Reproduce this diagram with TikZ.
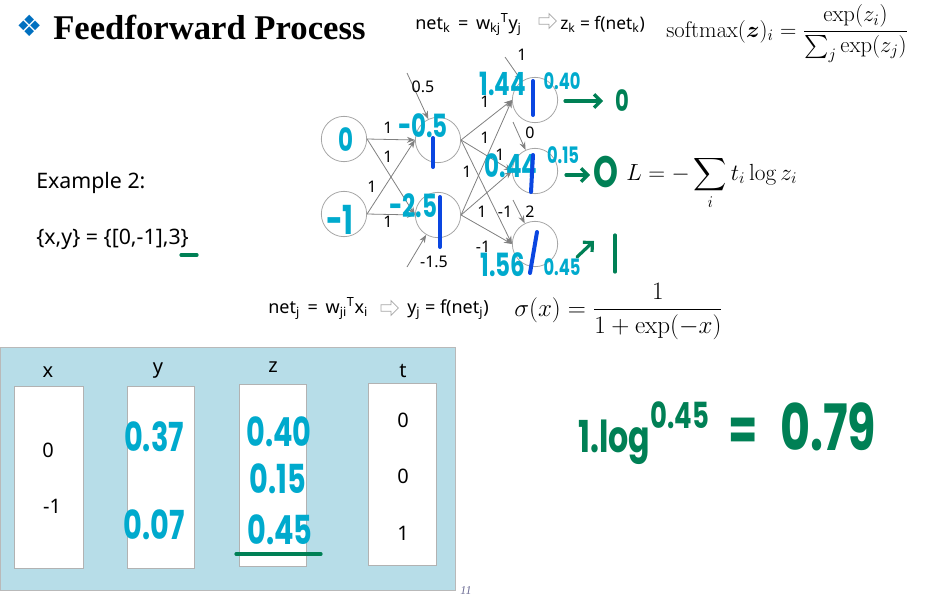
\RequirePackage{fix-cm}
\documentclass[tikz,border=0pt]{standalone}
\usepackage{amsmath,bm}
\usepackage{graphicx}
\usepackage[no-math]{fontspec}
\usetikzlibrary{arrows.meta,shapes.arrows}
\newfontfamily\sff{Noto Sans}
\newfontfamily\titlef{Liberation Serif}
\newfontfamily\hwf[FakeStretch=0.72]{Poppins}
\newfontfamily\symf{DejaVu Sans}
\definecolor{hwcyan}{RGB}{0,170,205}
\definecolor{hwblue}{RGB}{10,70,225}
\definecolor{hwgreen}{RGB}{0,128,85}
\definecolor{tblue}{RGB}{183,221,232}
\definecolor{dblue}{RGB}{0,112,192}
\definecolor{pgnum}{RGB}{110,110,150}
\tikzset{
  neuron/.style={circle, draw=gray!70, line width=0.6pt, minimum size=34pt, inner sep=0pt},
  edge/.style={draw=gray, line width=0.6pt, -{Stealth[length=6pt,width=4.5pt]}},
  wlab/.style={font=\sff\fontsize{12}{14}\selectfont, inner sep=0pt},
  frm/.style={font=\sff\fontsize{13.5}{15}\selectfont, inner sep=0pt, anchor=base west},
  hwL/.style={font=\hwf\bfseries\fontsize{24}{26}\selectfont, text=hwcyan, inner sep=0pt},
  hwS/.style={font=\hwf\bfseries\fontsize{17}{19}\selectfont, text=hwcyan, inner sep=0pt},
  hwT/.style={font=\hwf\bfseries\fontsize{30}{32}\selectfont, text=hwcyan, inner sep=0pt},
  hwG/.style={font=\hwf\bfseries, text=hwgreen, inner sep=0pt},
  bar/.style={draw=hwblue, line width=3pt, line cap=round},
  gr/.style={draw=hwgreen, line width=2.4pt, line cap=round, line join=round},
  grarrow/.style={gr, -{Straight Barb[length=5pt,width=10pt]}},
  tlab/.style={font=\sff\fontsize{15}{17}\selectfont, inner sep=0pt, anchor=base},
  wbox/.style={draw=gray!60, fill=white, line width=0.6pt},
  hollow/.style={single arrow, draw=gray!70, fill=white, line width=0.6pt, minimum height=13pt, minimum width=11pt, inner sep=2.2pt, single arrow head extend=3pt}
}
\begin{document}
\begin{tikzpicture}[x=0.75pt,y=-0.75pt]
\useasboundingbox (0,0) rectangle (937,603);

% title
\node[inner sep=0pt, text=dblue, font=\symf\fontsize{22}{24}\selectfont] (diam) at (30,26) {❖};
\node[inner sep=0pt, anchor=base west, font=\titlef\bfseries\fontsize{26}{28}\selectfont] (title) at (53,39) {Feedforward Process};

% top formula
\node[frm] (topf1) at (415,29) {net\textsubscript{k}\, = \,w\textsubscript{kj}\textsuperscript{T}y\textsubscript{j}};
\node[hollow] (toparr) at (546,21) {};
\node[frm, font=\sff\fontsize{13}{15}\selectfont] (topf2) at (560,29) {z\textsubscript{k} = f(net\textsubscript{k})};
\node[inner sep=0pt, anchor=base west, font=\fontsize{17}{19}\selectfont] (softmax) at (666,37)
  {$\displaystyle \mathrm{softmax}(\bm{z})_i = \frac{\exp(z_i)}{\sum_j \exp(z_j)}$};

% example text
\node[tlab, anchor=base west, font=\sff\fontsize{16}{18}\selectfont] (ex) at (36,188) {Example 2:};
\node[tlab, anchor=base west, font=\sff\fontsize{16}{18}\selectfont] (xy) at (36,244) {\{x,y\} = \{[0,-1],3\}};
\coordinate (ul1) at (181,255); \coordinate (ul2) at (197,255);
\draw[gr] (ul1) -- (ul2);

% network
\node[neuron] (i1) at (344,139) {};
\node[neuron] (i2) at (344,214) {};
\node[neuron] (h1) at (438,140) {};
\node[neuron] (h2) at (438,215) {};
\node[neuron] (o1) at (535,100) {};
\node[neuron] (o2) at (535,171) {};
\node[neuron] (o3) at (535,244) {};

\draw[edge] (i1.east) -- (h1.west);
\draw[edge] (i1.east) -- (h2.west);
\draw[edge] (i2.east) -- (h1.west);
\draw[edge] (i2.east) -- (h2.west);
\draw[edge] (h1.east) -- (o1.west);
\draw[edge] (h1.east) -- (o2.west);
\draw[edge] (h1.east) -- (o3.west);
\draw[edge] (h2.east) -- (o1.west);
\draw[edge] (h2.east) -- (o2.west);
\draw[edge] (h2.east) -- (o3.west);

\coordinate (b1) at (407,73);
\coordinate (b2) at (407,267);
\coordinate (b3) at (505,57);
\coordinate (b4) at (513,122);
\coordinate (b5) at (513,200);
\draw[edge] (b1) -- (h1);
\draw[edge] (b2) -- (h2);
\draw[edge] (b3) -- (o1);
\draw[edge] (b4) -- (o2);
\draw[edge] (b5) -- (o3);

\node[wlab] (l1) at (388,128) {1};
\node[wlab] (l2) at (388,157) {1};
\node[wlab] (l3) at (372,187) {1};
\node[wlab] (l4) at (388,222) {1};
\node[wlab] (l5) at (485,102) {1};
\node[wlab] (l6) at (485,138) {1};
\node[wlab] (l7) at (500,155) {1};
\node[wlab] (l8) at (467,172) {1};
\node[wlab] (l9) at (482,212) {1};
\node[wlab] (l10) at (505,212) {-1};
\node[wlab] (l11) at (483,247) {-1};
\node[wlab] (lb1) at (423,87) {0.5};
\node[wlab] (lb2) at (434,262) {-1.5};
\node[wlab] (lb3) at (522,55) {1};
\node[wlab] (lb4) at (530,133) {0};
\node[wlab] (lb5) at (530,212) {2};

% handwritten values in network
\node[hwL] (hi1) at (346,140) {0};
\node[hwT] (hi2) at (340,220) {-1};
\node[hwL] (hh1) at (423,126) {-0.5};
\node[hwL] (hh2) at (413,206) {-2.5};
\node[hwL] (ho1) at (503,84) {1.44};
\node[hwL] (ho2) at (511,166) {0.44};
\node[hwL] (ho3) at (503,265) {1.56};
\node[hwS] (zo1) at (562,81) {0.40};
\node[hwS] (zo2) at (563,155) {0.15};
\node[hwS] (zo3) at (562,267) {0.45};

\draw[bar] (433,138) -- (433,167);
\draw[bar] (440,197) -- (440,247);
\draw[bar] (533,81) -- (533,115);
\draw[bar] (533,155) -- (531,192);
\draw[bar] (537,232) -- (530,273);

% green targets
\coordinate (ga1) at (565,101); \coordinate (ga2) at (603,101);
\draw[grarrow] (ga1) -- (ga2);
\node[hwG, font=\hwf\bfseries\fontsize{22}{24}\selectfont] (g0a) at (622,101) {0};
\coordinate (gb1) at (566,175); \coordinate (gb2) at (590,175);
\draw[grarrow] (gb1) -- (gb2);
\node[hwG, font=\hwf\bfseries\fontsize{33}{35}\selectfont] (g0b) at (606,172) {O};
\coordinate (gc1) at (577,257); \coordinate (gc2) at (594,241);
\draw[grarrow] (gc1) -- (gc2);
\coordinate (gd1) at (615,235); \coordinate (gd2) at (615,272);
\draw[gr] (gd1) -- (gd2);

% loss formula
\node[inner sep=0pt, anchor=base west, font=\fontsize{17.5}{20}\selectfont] (loss) at (626,180)
  {$\displaystyle L = -\sum_i t_i \log z_i$};

% bottom formula
\node[frm] (botf1) at (268,313) {net\textsubscript{j}\, = \,w\textsubscript{ji}\textsuperscript{T}x\textsubscript{i}};
\node[hollow] (botarr) at (388,308) {};
\node[frm] (botf2) at (407,313) {y\textsubscript{j} = f(net\textsubscript{j})};
\node[inner sep=0pt, anchor=base west, font=\fontsize{18.8}{21}\selectfont] (sigma) at (514,316)
  {$\displaystyle \sigma(x) = \frac{1}{1+\exp(-x)}$};

% table
\draw[draw=gray!55, fill=tblue, line width=0.6pt] (0.5,347) rectangle (455,590);
\draw[wbox] (14,386) rectangle (83,568);
\draw[wbox] (127,386) rectangle (194,568);
\draw[wbox] (239,384) rectangle (306,566);
\draw[wbox] (368,383) rectangle (436,565);
\node[tlab] (hx) at (48,377) {x};
\node[tlab] (hy) at (158,373) {y};
\node[tlab] (hz) at (273,372) {z};
\node[tlab] (ht) at (403,377) {t};
\node[tlab] (x1) at (48,457) {0};
\node[tlab] (x2) at (52,513) {-1};
\node[tlab] (t1) at (403,427) {0};
\node[tlab] (t2) at (403,483) {0};
\node[tlab] (t3) at (403,540) {1};
\node[hwT] (y1) at (154,437) {0.37};
\node[hwT] (y2) at (154,525) {0.07};
\node[hwT] (z1) at (279,432) {0.40};
\node[hwT] (z2) at (278,479) {0.15};
\node[hwT] (z3) at (280,530) {0.45};
\coordinate (ul3) at (236,554); \coordinate (ul4) at (321,554);
\draw[gr] (ul3) -- (ul4);
\node[inner sep=0pt, text=pgnum, font=\titlef\itshape\fontsize{9}{10}\selectfont] (page) at (466,591) {11};

% big green result
\node[hwG, anchor=base west, font=\hwf\bfseries\fontsize{33}{36}\selectfont] (res1) at (578,452) {1.log};
\node[hwG, anchor=base west, font=\hwf\bfseries\fontsize{27}{30}\selectfont] (res2) at (650,428) {0.45};
\node[hwG, anchor=base west, font=\hwf\bfseries\fontsize{44}{48}\selectfont] (res3) at (728,450) {=};
\node[hwG, anchor=base west, font=\hwf\bfseries\fontsize{48}{52}\selectfont] (res4) at (780,450) {0.79};
\end{tikzpicture}
\end{document}
